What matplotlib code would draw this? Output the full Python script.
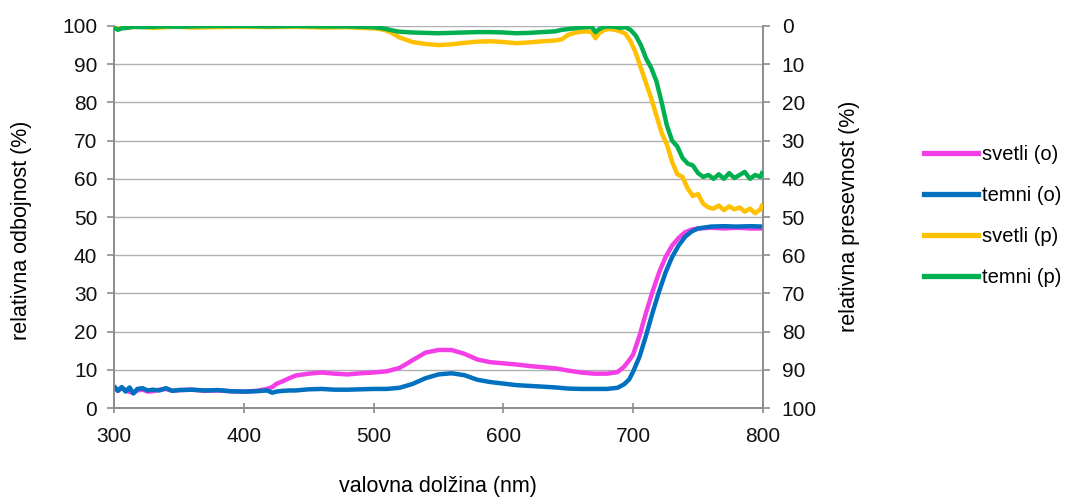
import numpy as np
import matplotlib.pyplot as plt
from matplotlib.lines import Line2D

plt.rcParams['font.family'] = ['Liberation Sans', 'DejaVu Sans']

# valovna dolžina (nm) in odčitane vrednosti
wl_o = [300, 303, 306, 309, 312, 315, 318, 322, 326, 330, 335, 340, 345, 350, 360, 370,
        380, 390, 400, 410, 418, 422, 425, 430, 435, 440, 450, 460, 470, 480, 490, 500,
        510, 520, 530, 540, 550, 560, 570, 580, 590, 600, 610, 620, 630, 640, 650, 660,
        670, 680, 688, 693, 697, 700, 705, 710, 715, 720, 725, 730, 735, 740, 745, 750,
        760, 770, 780, 790, 800]
svetli_o = [5.5, 4.5, 5.2, 4.8, 4.2, 4.0, 4.6, 4.8, 4.3, 4.4, 4.8, 5.0, 4.5, 4.7, 4.8, 4.5,
            4.6, 4.4, 4.3, 4.5, 5.0, 5.5, 6.3, 7.0, 7.8, 8.5, 9.0, 9.3, 9.0, 8.8, 9.1, 9.3,
            9.6, 10.5, 12.5, 14.5, 15.2, 15.2, 14.2, 12.7, 12.0, 11.7, 11.4, 11.0, 10.7, 10.4, 9.8, 9.3,
            9.0, 9.0, 9.4, 10.8, 12.5, 14.0, 19.0, 25.0, 30.5, 35.5, 39.5, 42.5, 44.5, 46.0, 46.7, 47.0,
            47.2, 47.0, 47.2, 47.0, 47.0]
temni_o = [5.8, 4.5, 5.5, 4.3, 5.4, 3.8, 5.0, 5.2, 4.6, 4.8, 4.6, 5.2, 4.5, 4.7, 4.8, 4.6,
           4.7, 4.4, 4.3, 4.4, 4.6, 4.0, 4.3, 4.5, 4.6, 4.6, 4.9, 5.0, 4.8, 4.8, 4.9, 5.0,
           5.0, 5.3, 6.3, 7.8, 8.8, 9.1, 8.6, 7.4, 6.8, 6.4, 6.0, 5.8, 5.6, 5.4, 5.1, 5.0,
           5.0, 5.0, 5.3, 6.2, 7.5, 9.5, 13.5, 19.0, 25.0, 30.5, 35.5, 39.5, 42.5, 44.8, 46.2, 47.0,
           47.5, 47.6, 47.5, 47.6, 47.5]

wl_p = [300, 303, 306, 310, 315, 320, 330, 340, 350, 360, 380, 400, 420, 440, 460, 480,
        490, 500, 505, 510, 515, 520, 525, 530, 540, 550, 560, 570, 580, 590, 600, 610,
        620, 630, 640, 645, 650, 655, 660, 665, 668, 671, 674, 678, 682, 686, 690, 694,
        698, 702, 706, 710, 714, 718, 722, 726, 730, 734, 738, 742, 746, 750, 754, 758,
        762, 766, 770, 774, 778, 782, 786, 790, 794, 798, 800]
svetli_p = [0.3, 0.5, 0.2, 0.4, 0.3, 0.2, 0.5, 0.3, 0.2, 0.4, 0.3, 0.2, 0.3, 0.2, 0.4, 0.3,
            0.5, 0.6, 0.8, 1.2, 2.0, 3.0, 3.6, 4.2, 4.7, 5.0, 4.8, 4.4, 4.1, 4.0, 4.2, 4.5,
            4.3, 4.0, 3.8, 3.5, 2.3, 1.8, 1.5, 1.4, 1.6, 3.2, 1.8, 1.0, 0.8, 1.0, 1.4, 2.0,
            4.0, 7.0, 11.0, 15.0, 19.0, 23.5, 28.0, 31.0, 35.5, 38.8, 39.5, 42.5, 44.5, 44.0, 46.5, 47.5,
            47.8, 47.0, 48.2, 47.2, 48.0, 47.5, 48.6, 47.8, 49.0, 48.0, 46.5]
temni_p = [0.4, 1.0, 0.6, 0.5, 0.2, 0.3, 0.2, 0.1, 0.2, 0.1, 0.0, 0.0, 0.1, 0.0, 0.1, 0.1,
           0.2, 0.3, 0.5, 0.8, 1.2, 1.5, 1.6, 1.7, 1.8, 1.9, 1.8, 1.7, 1.6, 1.6, 1.7, 1.9,
           1.8, 1.6, 1.4, 1.0, 0.8, 0.6, 0.4, 0.3, 0.2, 1.6, 0.8, 0.2, 0.1, 0.2, 0.5, 0.3,
           1.0, 2.5, 5.0, 8.5, 11.0, 14.5, 20.0, 26.0, 30.0, 31.5, 34.5, 36.0, 36.5, 38.5, 39.5, 39.0,
           40.0, 38.8, 40.0, 38.5, 39.8, 39.0, 38.2, 40.0, 39.0, 39.5, 38.0]

serije = ['svetli (o)', 'temni (o)', 'svetli (p)', 'temni (p)']
barve = ['#F33FE5', '#0070C0', '#FFC000', '#00B050']

fig = plt.figure(figsize=(10.73, 4.97), dpi=100)
ax = fig.add_axes([0.1062, 0.179, 0.6048, 0.7687])
ax2 = ax.twinx()

lw = 3.2
ax.plot(wl_o, svetli_o, color=barve[0], lw=lw, solid_capstyle='butt', zorder=3)
ax.plot(wl_o, temni_o, color=barve[1], lw=lw, solid_capstyle='butt', zorder=4)
ax2.plot(wl_p, svetli_p, color=barve[2], lw=lw, solid_capstyle='butt', zorder=3)
ax2.plot(wl_p, temni_p, color=barve[3], lw=lw, solid_capstyle='butt', zorder=4)

siva = '#8C8C8C'
ax.set_xlim(300, 800)
ax.set_ylim(0, 100)
ax.set_xticks(range(300, 801, 100))
ax.set_yticks(range(0, 101, 10))
ax.grid(axis='y', color='#B0B0B0', lw=1.0)
ax.set_axisbelow(True)

ax2.set_ylim(100, 0)
ax2.set_yticks(range(0, 101, 10))

for a in (ax, ax2):
    for s in a.spines.values():
        s.set_color(siva)
        s.set_linewidth(1.2)
    a.spines['top'].set_visible(False)
    a.tick_params(colors=siva, labelcolor='#111111', labelsize=15, length=5, width=1.2)
ax.tick_params(axis='y', pad=7)
ax2.tick_params(axis='y', pad=8.5)
ax.tick_params(axis='x', direction='inout', length=7, pad=10)

ax.set_xlabel('valovna dolžina (nm)', fontsize=15.5)
ax.set_ylabel('relativna odbojnost (%)', fontsize=15.5)
ax2.set_ylabel('relativna presevnost (%)', fontsize=15.5)
ax.xaxis.set_label_coords(0.5, -0.178)
ax.yaxis.set_label_coords(-0.126, 0.466)
ax2.yaxis.set_label_coords(1.118, 0.503)

handles = [Line2D([], [], color=c, lw=3.8) for c in barve]
fig.legend(handles, serije, loc='center left', bbox_to_anchor=(0.861, 0.565),
           frameon=False, fontsize=14.5, handlelength=2.7, handletextpad=0.2,
           labelspacing=1.1, borderaxespad=0, borderpad=0)

fig.savefig('out.png', dpi=100)
